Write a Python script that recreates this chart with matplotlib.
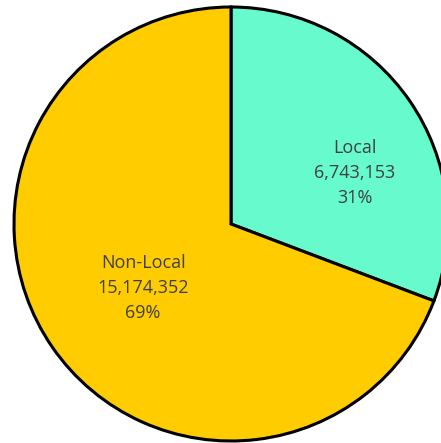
import matplotlib
matplotlib.use("Agg")
import matplotlib.pyplot as plt

labels = ["Local", "Non-Local"]
values = [6743153, 15174352]
colors = ["#66FACC", "#FFCC00"]

plt.rcParams['font.family'] = ['Open Sans', 'DejaVu Sans']

fig = plt.figure(figsize=(4.41, 4.43), dpi=100)
cx, cy, r = 231, 224, 217
ax = fig.add_axes([(cx - r) / 441, (443 - cy - r) / 443, 2 * r / 441, 2 * r / 443])
ax.pie(values, colors=colors, startangle=90, counterclock=False,
       wedgeprops=dict(edgecolor="black", linewidth=2.2), radius=1)
ax.set_xlim(-1, 1)
ax.set_ylim(-1, 1)
ax.axis("off")

total = sum(values)
pos = [(0.571, 0.235), (-0.405, -0.295)]
for lab, v, (x, y) in zip(labels, values, pos):
    ax.text(x, y, f"{lab}\n{v:,}\n{v / total:.0%}", ha="center", va="center",
            fontsize=13, color="#404040", linespacing=1.5)

fig.savefig("out.png", dpi=100)
